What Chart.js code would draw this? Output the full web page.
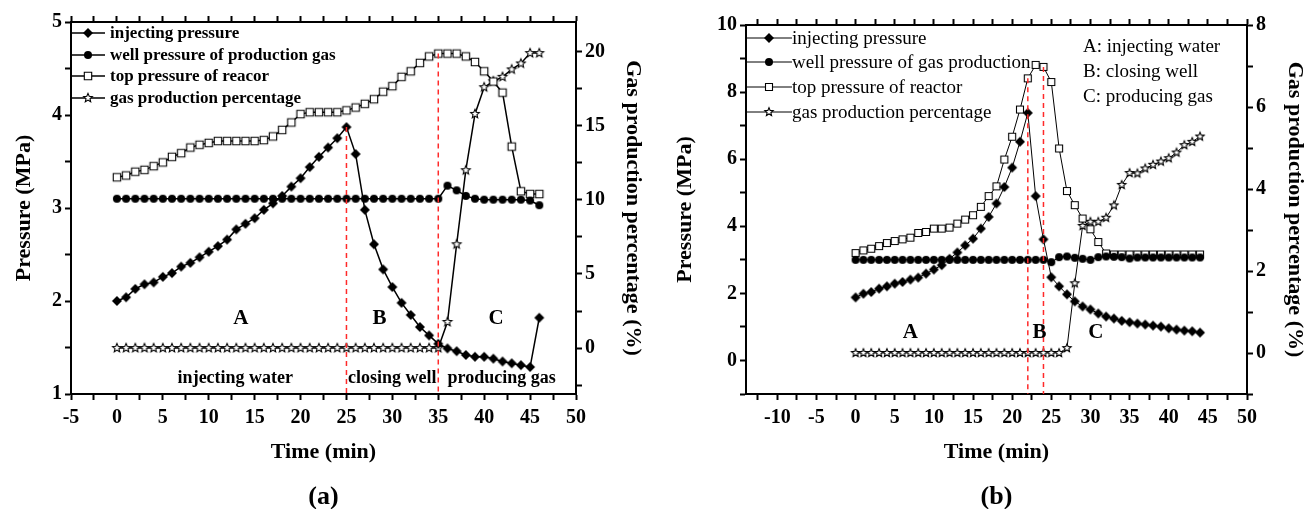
<!DOCTYPE html>
<html>
<head>
<meta charset="utf-8">
<script src="https://cdn.jsdelivr.net/npm/chart.js@4.4.1/dist/chart.umd.min.js"></script>
<style>
  html, body { margin: 0; padding: 0; background: #fff; }
  #wrap { position: relative; width: 1306px; height: 509px; }
  canvas { position: absolute; top: 0; }
  #chartA { left: 0; }
  #chartB { left: 653px; }
</style>
</head>
<body>
<div id="wrap">
  <canvas id="chartA" width="653" height="509"></canvas>
  <canvas id="chartB" width="653" height="509"></canvas>
</div>
<script>
const SERIF = '"Liberation Serif", "Times New Roman", serif';

// ---------- panel (a) ----------
const timeA = [0, 1, 2, 3, 4, 5, 6, 7, 8, 9, 10, 11, 12, 13, 14, 15, 16, 17, 18, 19, 20, 21, 22, 23,
    24, 25, 26, 27, 28, 29, 30, 31, 32, 33, 34, 35, 36, 37, 38, 39, 40, 41, 42, 43, 44, 45, 46];
const injectA = [2.00, 2.04, 2.13, 2.18, 2.20, 2.26, 2.30, 2.37, 2.41, 2.47, 2.53, 2.59, 2.66, 2.77, 2.83, 2.89,
    2.98, 3.05, 3.13, 3.23, 3.32, 3.44, 3.55, 3.65, 3.75, 3.87, 3.58, 2.98, 2.61, 2.34, 2.15, 1.98,
    1.85, 1.72, 1.63, 1.54, 1.49, 1.46, 1.42, 1.40, 1.40, 1.38, 1.35, 1.33, 1.31, 1.29, 1.82];
const wellA = [3.10, 3.10, 3.10, 3.10, 3.10, 3.10, 3.10, 3.10, 3.10, 3.10, 3.10, 3.10, 3.10, 3.10, 3.10, 3.10,
    3.10, 3.10, 3.10, 3.10, 3.10, 3.10, 3.10, 3.10, 3.10, 3.10, 3.10, 3.10, 3.10, 3.10, 3.10, 3.10,
    3.10, 3.10, 3.10, 3.10, 3.24, 3.19, 3.13, 3.10, 3.09, 3.09, 3.09, 3.09, 3.09, 3.08, 3.03];
const topA = [3.33, 3.35, 3.39, 3.41, 3.45, 3.49, 3.55, 3.59, 3.65, 3.68, 3.70, 3.72, 3.72, 3.72, 3.72, 3.72,
    3.73, 3.77, 3.84, 3.92, 4.01, 4.03, 4.03, 4.03, 4.03, 4.05, 4.08, 4.12, 4.17, 4.25, 4.31, 4.41,
    4.47, 4.56, 4.63, 4.66, 4.66, 4.66, 4.63, 4.57, 4.47, 4.36, 4.24, 3.66, 3.18, 3.15, 3.15];
const gasA = [0, 0, 0, 0, 0, 0, 0, 0, 0, 0, 0, 0, 0, 0, 0, 0, 0, 0, 0, 0, 0, 0, 0, 0,
    0, 0, 0, 0, 0, 0, 0, 0, 0, 0, 0, 0, 1.76, 7.0, 12.0, 15.8, 17.6, 18.0, 18.3, 18.8, 19.2, 19.9, 19.9];
const namesA = ['injecting pressure', 'well pressure of production gas', 'top pressure of reacor', 'gas production percentage'];
const xTicksA = [-5, 0, 5, 10, 15, 20, 25, 30, 35, 40, 45, 50];
const yTicksA = [1, 2, 3, 4, 5];
const y1TicksA = [0, 5, 10, 15, 20];
const markXA = [25, 35];
const markTopA = [3.87, 4.66];
const lettersA = ['A', 'B', 'C'];
const letterXA = [13.5, 28.6, 41.3];
const stageNamesA = ['injecting water', 'closing well', 'producing gas'];
const stageNameXA = [12.9, 30.0, 41.9];

// ---------- panel (b) ----------
const timeB = [0, 1, 2, 3, 4, 5, 6, 7, 8, 9, 10, 11, 12, 13, 14, 15, 16, 17, 18, 19, 20, 21, 22,
    23, 24, 25, 26, 27, 28, 29, 30, 31, 32, 33, 34, 35, 36, 37, 38, 39, 40, 41, 42, 43, 44];
const injectB = [1.88, 1.99, 2.04, 2.14, 2.21, 2.29, 2.34, 2.41, 2.47, 2.59, 2.71, 2.84, 3.03, 3.22, 3.43,
    3.63, 3.93, 4.28, 4.68, 5.17, 5.75, 6.52, 7.38, 4.90, 3.61, 2.48, 2.21, 1.97, 1.76, 1.61,
    1.52, 1.40, 1.31, 1.25, 1.18, 1.14, 1.10, 1.07, 1.04, 1.01, 0.96, 0.92, 0.89, 0.87, 0.83];
const wellB = [3.00, 3.00, 3.00, 3.00, 3.00, 3.00, 3.00, 3.00, 3.00, 3.00, 3.00, 3.00, 3.00, 3.00, 3.00,
    3.00, 3.00, 3.00, 3.00, 3.00, 3.00, 3.00, 3.00, 3.00, 3.00, 2.93, 3.08, 3.10, 3.06, 3.03,
    3.00, 3.08, 3.10, 3.09, 3.08, 3.04, 3.07, 3.07, 3.07, 3.07, 3.07, 3.07, 3.07, 3.07, 3.07];
const topB = [3.20, 3.28, 3.33, 3.41, 3.50, 3.56, 3.61, 3.66, 3.80, 3.83, 3.93, 3.93, 3.96, 4.08, 4.20,
    4.33, 4.58, 4.90, 5.19, 5.99, 6.67, 7.48, 8.41, 8.81, 8.75, 8.30, 6.32, 5.05, 4.63, 4.23,
    3.91, 3.53, 3.19, 3.16, 3.16, 3.16, 3.16, 3.16, 3.16, 3.16, 3.16, 3.16, 3.16, 3.16, 3.16];
const gasB = [0, 0, 0, 0, 0, 0, 0, 0, 0, 0, 0, 0, 0, 0, 0, 0, 0, 0, 0, 0, 0, 0, 0, 0, 0, 0, 0,
    0.12, 1.7, 3.1, 3.2, 3.2, 3.3, 3.6, 4.1, 4.39, 4.38, 4.5, 4.59, 4.67, 4.75, 4.89, 5.07, 5.15, 5.28];
const namesB = ['injecting pressure', 'well pressure of gas production', 'top pressure of reactor', 'gas production percentage'];
const xTicksB = [-10, -5, 0, 5, 10, 15, 20, 25, 30, 35, 40, 45, 50];
const yTicksB = [0, 2, 4, 6, 8, 10];
const y1TicksB = [0, 2, 4, 6, 8];
const markXB = [22, 24];
const markTopB = [8.41, 8.75];
const lettersB = ['A', 'B', 'C'];
const letterXB = [7.0, 23.5, 30.7];
const keyB = ['A: injecting water', 'B: closing well', 'C: producing gas'];

// small marker images, used both for the points and the legend
function makeMarker(kind, size) {
    const c = document.createElement('canvas');
    c.width = 16; c.height = 16;
    const g = c.getContext('2d');
    g.translate(8, 8);
    g.lineWidth = 1.1;
    g.strokeStyle = '#000';
    g.fillStyle = '#000';
    g.beginPath();
    if (kind === 'diamond') {
        g.moveTo(0, -size); g.lineTo(size, 0); g.lineTo(0, size); g.lineTo(-size, 0); g.closePath();
        g.fill();
    } else if (kind === 'circle') {
        g.arc(0, 0, size, 0, Math.PI * 2);
        g.fill();
    } else if (kind === 'square') {
        g.rect(-size, -size, size * 2, size * 2);
        g.fillStyle = '#fff'; g.fill(); g.stroke();
    } else {
        for (let k = 0; k < 10; k++) {
            const r = k % 2 ? size * 0.45 : size;
            const a = -Math.PI / 2 + k * Math.PI / 5;
            g.lineTo(r * Math.cos(a), r * Math.sin(a));
        }
        g.closePath();
        g.fillStyle = '#fff'; g.fill(); g.stroke();
    }
    return c;
}

// major ticks plus a minor tick halfway between each pair
function tickList(majors, min, max) {
    const half = (majors[1] - majors[0]) / 2;
    const out = [];
    for (let v = majors[0] - 2 * half; v <= max + 1e-9; v += half) {
        if (v >= min - 1e-9) out.push(+v.toFixed(3));
    }
    return out;
}

function pts(xs, ys) {
    return xs.map((x, i) => ({ x: x, y: ys[i] }));
}

function axis(p, pos, min, max, majors, size, title, titlePad) {
    const horizontal = pos === 'top' || pos === 'bottom';
    return {
        type: 'linear', position: pos, min: min, max: max,
        afterBuildTicks: s => { s.ticks = tickList(majors, min, max).map(v => ({ value: v })); },
        afterFit: s => { if (horizontal) s.height = size; else s.width = size; },
        ticks: {
            display: pos !== 'top',
            autoSkip: false, maxRotation: 0, padding: horizontal ? 6 : 3, color: '#000',
            font: { family: SERIF, size: 20, weight: 'bold' },
            callback: v => majors.includes(v) ? String(v) : ''
        },
        grid: { drawOnChartArea: false, drawTicks: true, tickLength: 6, tickColor: '#000', tickWidth: 2 },
        border: { display: true, color: '#000', width: 2 },
        title: {
            display: !!title, text: title, color: '#000',
            font: { family: SERIF, size: 22, weight: 'bold', lineHeight: 1 },
            padding: titlePad
        }
    };
}

function drawOverlay(chart, p) {
    const { ctx, chartArea, scales } = chart;
    const x = scales.x, y = scales.y;
    ctx.save();
    ctx.fillStyle = '#000';
    ctx.textAlign = 'center';
    ctx.textBaseline = 'middle';

    ctx.font = 'bold 21px ' + SERIF;
    p.letters.forEach((t, i) => ctx.fillText(t, x.getPixelForValue(p.letterX[i]), y.getPixelForValue(p.letterY)));

    if (p.stageNames) {
        ctx.font = 'bold 18px ' + SERIF;
        p.stageNames.forEach((t, i) => ctx.fillText(t, x.getPixelForValue(p.stageNameX[i]), y.getPixelForValue(p.stageNameY)));
    }

    // legend: line - marker - line, then text
    ctx.textAlign = 'left';
    ctx.font = p.legendFont;
    p.names.forEach((t, i) => {
        const ly = chartArea.top + p.legendRows[i];
        const lx = chartArea.left;
        ctx.strokeStyle = '#000';
        ctx.lineWidth = p.lineWidth;
        ctx.beginPath();
        ctx.moveTo(lx + 1, ly);
        ctx.lineTo(lx + p.legendLine, ly);
        ctx.stroke();
        const m = p.markers[i];
        ctx.drawImage(m, lx + p.legendLine / 2 - m.width / 2, ly - m.height / 2);
        ctx.fillText(t, lx + p.legendLine + p.legendGap, ly + 1);
    });

    if (p.key) {
        ctx.font = '19px ' + SERIF;
        p.key.forEach((t, i) => ctx.fillText(t, chartArea.left + 337, chartArea.top + 22 + i * 25));
    }

    ctx.textAlign = 'center';
    ctx.font = 'bold 26px ' + SERIF;
    ctx.fillText(p.caption, (chartArea.left + chartArea.right) / 2, 497);
    ctx.restore();
}

function buildChart(canvas, p) {
    const datasets = [];
    p.markX.forEach((mx, i) => {
        datasets.push({
            data: [{ x: mx, y: p.markTop[i] }, { x: mx, y: p.yMin }],
            borderColor: '#ff2a2a', borderWidth: 1.5, borderDash: [5, 4], pointRadius: 0, yAxisID: 'y'
        });
    });
    p.series.forEach((ys, i) => {
        datasets.push({
            label: p.names[i],
            data: pts(p.time, ys),
            yAxisID: i === 3 ? 'y1' : 'y',
            borderColor: '#000', borderWidth: p.lineWidth, tension: 0, fill: false,
            pointStyle: p.markers[i], pointRadius: 5, pointHoverRadius: 5
        });
    });

    return new Chart(canvas, {
        type: 'line',
        data: { datasets: datasets },
        options: {
            responsive: false, animation: false, devicePixelRatio: 1,
            layout: { padding: 0 },
            events: [],
            plugins: { legend: { display: false }, tooltip: { enabled: false } },
            scales: {
                x: axis(p, 'bottom', p.xMin, 50, p.xTicks, 115, 'Time (min)', { top: 0, bottom: 46 }),
                xt: axis(p, 'top', p.xMin, 50, p.xTicks, p.top, '', 0),
                y: axis(p, 'left', p.yMin, p.yMax, p.yTicks, p.left, 'Pressure (MPa)', { top: p.leftTitle, bottom: 0 }),
                y1: axis(p, 'right', p.y1Min, p.y1Max, p.y1Ticks, 653 - p.right, 'Gas production percentage (%)', { top: p.rightTitle, bottom: 0 })
            }
        },
        plugins: [{ id: 'overlay', afterDraw: chart => drawOverlay(chart, p) }]
    });
}

buildChart(document.getElementById('chartA'), {
    time: timeA, series: [injectA, wellA, topA, gasA], names: namesA,
    markers: [makeMarker('diamond', 5), makeMarker('circle', 4), makeMarker('square', 3.7), makeMarker('star', 4.6)],
    xMin: -5, xTicks: xTicksA,
    yMin: 1, yMax: 5, yTicks: yTicksA,
    y1Min: -3.1, y1Max: 22, y1Ticks: y1TicksA,
    left: 71, right: 576, top: 22, leftTitle: 13, rightTitle: 9,
    lineWidth: 1.5,
    markX: markXA, markTop: markTopA,
    letters: lettersA, letterX: letterXA, letterY: 1.81,
    stageNames: stageNamesA, stageNameX: stageNameXA, stageNameY: 1.17,
    legendFont: 'bold 17px ' + SERIF, legendRows: [11, 33, 54, 76], legendLine: 34, legendGap: 5,
    caption: '(a)'
});

buildChart(document.getElementById('chartB'), {
    time: timeB, series: [injectB, wellB, topB, gasB], names: namesB,
    markers: [makeMarker('diamond', 5), makeMarker('circle', 4), makeMarker('square', 3.5), makeMarker('star', 4.4)],
    xMin: -14, xTicks: xTicksB,
    yMin: -1, yMax: 10, yTicks: yTicksB,
    y1Min: -1, y1Max: 8, y1Ticks: y1TicksB,
    left: 93, right: 594, top: 25, leftTitle: 21, rightTitle: 0,
    lineWidth: 1,
    markX: markXB, markTop: markTopB,
    letters: lettersB, letterX: letterXB, letterY: 0.84,
    legendFont: '19px ' + SERIF, legendRows: [13, 37, 62, 87], legendLine: 46, legendGap: 0,
    key: keyB,
    caption: '(b)'
});
</script>
</body>
</html>
